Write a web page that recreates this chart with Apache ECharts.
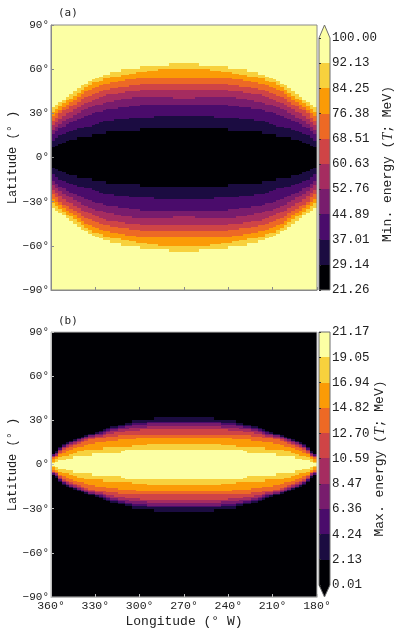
<!DOCTYPE html>
<html><head><meta charset="utf-8">
<style>html,body{margin:0;padding:0;background:#fff}#c{width:400px;height:632px}</style>
<script src="https://cdn.jsdelivr.net/npm/echarts@6/dist/echarts.min.js"></script>
</head><body><div id="c"></div>
<script>
const bandColors=['#000004','#1b0c41','#4a0c6b','#781c6d','#a52c60','#cf4446','#ed6925','#fb9b06','#f7d13d','#fcffa4'];
const ticksA=[21.26,29.14,37.01,44.89,52.76,60.63,68.51,76.38,84.25,92.13,100.00];
const ticksB=[0.01,2.13,4.24,6.36,8.47,10.59,12.70,14.82,16.94,19.05,21.17];
// Upper edge latitude of each band, per 2.5 deg column, from the 360 W edge toward 270 W.
const minE1=[7,8,9,10,11,12,12,14,14,14,14,16,16,16,16,18,18,18,18,18,18,18,18,18,20,20,20,20,20,20,20,20,20,20,20,20];
const minE2=[11,13,15,16,17,18,19,20,20,21,21,22,23,24,25,25,25,26,26,26,26,27,27,27,27,27,27,27,28,28,28,28,28,28,28,28];
const minE3=[16,18,20,21,23,24,25,26,27,28,29,30,31,31,32,33,33,33,34,34,34,35,35,35,36,36,36,36,36,36,36,36,36,36,36,36];
const minE4=[19,21,23,25,26,27,29,30,32,33,34,35,36,36,37,38,38,39,39,40,40,40,41,41,41,41,41,41,41,41,41,41,41,40,40,40];
const minE5=[22,24,26,28,30,31,33,34,36,37,38,39,40,41,42,43,43,43,44,44,45,45,45,45,46,46,46,46,46,46,46,46,46,46,46,46];
const minE6=[25,27,30,32,33,35,36,38,40,41,42,43,44,45,46,46,47,47,48,48,48,49,49,49,50,50,50,50,50,50,50,50,50,50,50,50];
const minE7=[28,30,32,34,36,38,39,41,43,45,46,47,48,49,50,50,51,51,52,52,53,53,53,54,54,54,54,54,54,54,54,54,54,54,54,54];
const minE8=[31,33,35,37,39,40,42,44,46,48,49,51,51,52,54,54,55,55,55,56,56,57,57,58,58,58,59,59,59,60,60,60,60,60,60,60];
const minE9=[34,36,38,39,41,43,45,47,49,50,52,53,54,55,56,56,58,58,58,60,60,60,60,60,62,62,62,62,62,62,62,62,64,64,64,64];
const maxE1=[1,2,3,3,4,4,6,6,6,6,6,8,8,8,8,8,8,8,8,9,10,10,10,10,10,10,10,10,10,10,10,10,10,10,10,10];
const maxE2=[2,4,5,6,6,7,8,9,9,10,10,10,10,10,12,12,12,12,12,12,12,12,13,13,13,13,14,14,14,14,14,14,14,14,14,14];
const maxE3=[4,5,7,8,9,10,11,12,12,13,14,14,15,15,15,16,16,16,17,17,17,17,17,18,18,18,18,18,18,18,18,18,18,18,18,18];
const maxE4=[5,6,8,10,11,12,13,14,15,16,17,17,18,18,18,19,19,19,20,20,20,20,20,20,20,20,20,20,20,20,20,20,20,20,20,20];
const maxE5=[5,6,9,11,12,13,14,15,16,17,18,18,19,19,20,21,21,22,22,22,23,23,23,23,24,24,24,24,24,24,24,24,24,24,24,24];
const maxE6=[6,7,10,12,13,14,15,16,17,18,19,19,20,20,21,22,23,23,24,24,24,25,25,25,25,25,26,26,26,26,26,26,26,26,26,26];
const maxE7=[6,8,10,12,14,15,16,17,18,19,20,20,21,21,22,23,24,24,25,25,26,26,27,27,27,27,28,28,28,28,28,28,28,28,28,28];
const maxE8=[7,8,11,13,14,15,16,17,18,19,20,20,21,22,23,24,25,25,26,26,27,27,28,28,28,28,29,29,29,29,29,29,29,29,29,29];
const maxE9=[7,9,12,14,15,16,17,18,19,20,21,21,22,23,24,25,26,26,27,27,28,28,30,30,30,30,30,30,32,32,32,32,32,32,32,32];
const minEdges=[minE1,minE2,minE3,minE4,minE5,minE6,minE7,minE8,minE9];
const maxEdges=[maxE1,maxE2,maxE3,maxE4,maxE5,maxE6,maxE7,maxE8,maxE9];

function cells(edges,innerBand,step){
  const out=[];
  for(let k=0;k<36;k++){
    const lons=[[360-2.5*(k+1),360-2.5*k],[180+2.5*k,180+2.5*(k+1)]];
    lons.forEach(([a,b])=>{
      let prev=0,band=innerBand;
      out.push([a,b,-edges[0][k],edges[0][k],band]);
      prev=edges[0][k];
      for(let i=1;i<=edges.length;i++){
        band+=step;
        const top=i<edges.length?edges[i][k]:90;
        if(top>prev){out.push([a,b,prev,top,band]);out.push([a,b,-top,-prev,band]);}
        prev=top;
      }
    });
  }
  return out;
}
function renderCell(p,api){
  const a=api.coord([api.value(0),api.value(3)]),b=api.coord([api.value(1),api.value(2)]);
  const x0=Math.round(Math.min(a[0],b[0])),x1=Math.round(Math.max(a[0],b[0]));
  const y0=Math.round(a[1]),y1=Math.round(b[1]);
  return {type:'rect',shape:{x:x0,y:y0,width:x1-x0,height:y1-y0},style:{fill:bandColors[api.value(4)]}};
}
function cellSeries(idx,data){
  return {type:'custom',xAxisIndex:idx,yAxisIndex:idx,data,renderItem:renderCell,clip:true,silent:true,animation:false,z:2,
    encode:{x:[0,1],y:[2,3]}};
}
function frameSeries(idx,col){
  return {type:'custom',xAxisIndex:idx,yAxisIndex:idx,data:[[180,360,-90,90]],clip:false,silent:true,animation:false,z:4,
    encode:{x:[0,1],y:[2,3]},
    renderItem(p,api){
      const a=api.coord([api.value(0),api.value(3)]),b=api.coord([api.value(1),api.value(2)]);
      return {type:'rect',shape:{x:Math.min(a[0],b[0]),y:a[1],width:Math.abs(b[0]-a[0]),height:b[1]-a[1]},style:{fill:'none',stroke:col,lineWidth:1}};
    }};
}
function barSeries(idx,ticks,arrow){
  const data=ticks.slice(0,-1).map((t,i)=>[0,1,t,ticks[i+1],i]);
  return [{type:'custom',xAxisIndex:idx,yAxisIndex:idx,data,renderItem:renderCell,clip:true,silent:true,animation:false,z:2,encode:{x:[0,1],y:[2,3]}},
  {type:'custom',xAxisIndex:idx,yAxisIndex:idx,data:[[0,1,ticks[0],ticks[10]]],clip:false,silent:true,animation:false,z:4,encode:{x:[0,1],y:[2,3]},
    renderItem(p,api){
      const a=api.coord([0,ticks[10]]),b=api.coord([1,ticks[0]]);
      const mid=(a[0]+b[0])/2,pts=arrow>0
        ?[[a[0],b[1]],[a[0],a[1]],[mid,a[1]-arrow],[b[0],a[1]],[b[0],b[1]]]
        :[[a[0],a[1]],[a[0],b[1]],[mid,b[1]-arrow],[b[0],b[1]],[b[0],a[1]]];
      return {type:'group',children:[
        {type:'polygon',z2:1,shape:{points:pts},style:{fill:'none',stroke:'#6e6e6e',lineWidth:1}},
        {type:'polygon',z2:0,shape:{points:arrow>0?[[a[0],a[1]],[mid,a[1]-arrow],[b[0],a[1]]]:[[a[0],b[1]],[mid,b[1]-arrow],[b[0],b[1]]]},style:{fill:arrow>0?bandColors[9]:bandColors[0]}}
      ]};
    }}];
}
const font='"Liberation Mono",monospace';
const deg=v=>String(v).replace('-','\u2212')+'\u00b0';
function mapX(idx,showLabels,col){
  return {type:'value',gridIndex:idx,min:180,max:360,interval:30,inverse:true,position:'bottom',z:5,splitLine:{show:false},
    axisLine:{show:true,onZero:false,lineStyle:{color:col}},axisTick:{show:true,inside:true,length:3,lineStyle:{color:col}},
    axisLabel:{show:showLabels,formatter:deg,fontFamily:font,fontSize:11.5,color:'#222',margin:3,showMinLabel:true,showMaxLabel:true,hideOverlap:false},
    name:showLabels?'Longitude (\u00b0 W)':'',nameLocation:'middle',nameGap:18,nameMoveOverlap:false,nameTextStyle:{fontFamily:font,fontSize:13,color:'#222'}};
}
function mapY(idx,col){
  return {type:'value',gridIndex:idx,min:-90,max:90,interval:30,z:5,splitLine:{show:false},
    axisLine:{show:true,onZero:false,lineStyle:{color:col}},axisTick:{show:true,inside:true,length:3,lineStyle:{color:col}},
    axisLabel:{formatter:deg,fontFamily:font,fontSize:11,color:'#222',margin:2,showMinLabel:true,showMaxLabel:true,hideOverlap:false},
    name:'Latitude (\u00b0 )',nameLocation:'middle',nameRotate:90,nameGap:32,nameMoveOverlap:false,nameTextStyle:{fontFamily:font,fontSize:12,color:'#222'}};
}
function barX(idx){return {type:'value',gridIndex:idx,min:0,max:1,show:false};}
function barY(idx,ticks,name,gap){
  return {type:'value',gridIndex:idx,min:ticks[0],max:ticks[10],position:'right',z:5,splitLine:{show:false},
    axisLine:{show:false},axisTick:{show:true,customValues:ticks,length:2,lineStyle:{color:'#333'}},
    axisLabel:{customValues:ticks,formatter:v=>v.toFixed(2),fontFamily:font,fontSize:12.5,color:'#222',margin:2,showMinLabel:true,showMaxLabel:true,hideOverlap:false},
    name,nameLocation:'middle',nameRotate:90,nameGap:gap,nameMoveOverlap:false,
    nameTextStyle:{fontFamily:font,fontSize:13,color:'#222',rich:{i:{fontFamily:'"Liberation Serif",serif',fontStyle:'italic',fontSize:14,color:'#222'}}}};
}
const option={
  animation:false,backgroundColor:'#fff',
  title:[
    {text:'(a)',left:53,top:3,textStyle:{fontFamily:'"DejaVu Sans Mono",monospace',fontSize:11,fontWeight:'normal',color:'#222'}},
    {text:'(b)',left:53,top:311,textStyle:{fontFamily:'"DejaVu Sans Mono",monospace',fontSize:11,fontWeight:'normal',color:'#222'}}
  ],
  grid:[
    {left:51,top:25,width:266,height:265,outerBoundsMode:'none'},
    {left:51,top:332,width:266,height:265,outerBoundsMode:'none'},
    {left:319,top:38,width:11,height:252,outerBoundsMode:'none'},
    {left:319,top:332,width:11,height:253,outerBoundsMode:'none'}
  ],
  xAxis:[mapX(0,false,'#8a8a8a'),mapX(1,true,'#bdbdbd'),barX(2),barX(3)],
  yAxis:[mapY(0,'#8a8a8a'),mapY(1,'#bdbdbd'),
    barY(2,ticksA,'Min. energy ({i|T}; MeV)',51),barY(3,ticksB,'Max. energy ({i|T}; MeV)',43)],
  series:[
    cellSeries(0,cells(minEdges,0,1)),cellSeries(1,cells(maxEdges,9,-1)),
    frameSeries(0,'#8a8a8a'),frameSeries(1,'#bdbdbd'),
    ...barSeries(2,ticksA,13),...barSeries(3,ticksB,-12)
  ]
};
echarts.init(document.getElementById('c'),null,{renderer:'canvas'}).setOption(option);
</script></body></html>
